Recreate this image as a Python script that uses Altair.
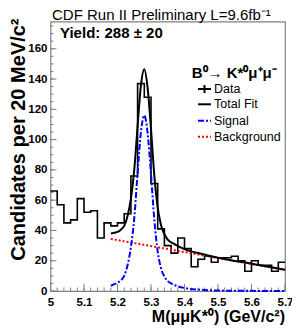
import altair as alt
import pandas as pd

# ---------------- data ----------------
BIN_LO = [round(5.00 + 0.02 * i, 2) for i in range(35)]
COUNTS = [66, 57, 45, 47, 61, 52, 53, 35, 45, 43,
          45, 51, 76, 137, 128, 71, 41, 30, 25, 35,
          28, 16, 21, 23, 19, 22, 22, 23, 20, 13,
          20, 17, 17, 13, 19]
HIST_END = 5.70

FIT_X = [5.18, 5.20, 5.21, 5.22, 5.23, 5.24, 5.25, 5.26, 5.27, 5.28, 5.29, 5.30,
         5.31, 5.32, 5.33, 5.34, 5.35, 5.37, 5.40, 5.45, 5.50, 5.60, 5.70]
SIGNAL = [3.5, 5.5, 7, 10, 17, 29, 48, 78, 105, 116, 104, 77,
          47, 26, 15, 9.5, 6.5, 4, 2, 0.8, 0.3, 0.1, 0]
TOTAL = [38, 39, 40.5, 43, 49.5, 61, 80, 109, 136, 146.5, 134, 107,
         76, 55, 43.5, 37.5, 34, 31, 27.7, 24.6, 22, 18, 14]
BKG_X = [5.18, 5.70]
BKG = [34.4, 13.9]

X_MAJOR = [5.0, 5.1, 5.2, 5.3, 5.4, 5.5, 5.6, 5.7]
X_MINOR = [round(5.0 + 0.02 * i, 2) for i in range(36)]
Y_MAJOR = [0, 20, 40, 60, 80, 100, 120, 140, 160]
Y_MINOR = list(range(0, 180, 5))

TITLE = "CDF Run II Preliminary L=9.6fb\u207b\u00b9"
YIELD = "Yield: 288 \u00b1 20"
DECAY = "B\u2070\u2192 K*\u2070\u03bc\u207a\u03bc\u207b"
LEGEND = ["Data", "Total Fit", "Signal", "Background"]
X_TITLE = "M(\u03bc\u03bcK*\u2070) (GeV/c\u00b2)"
Y_TITLE = "Candidates per 20 MeV/c\u00b2"

# ---------------- tables ----------------
hist_df = pd.DataFrame({"x": BIN_LO + [HIST_END], "y": COUNTS + [COUNTS[-1]]})
sig_df = pd.DataFrame({"x": FIT_X, "y": SIGNAL})
tot_df = pd.DataFrame({"x": FIT_X, "y": TOTAL})
bkg_df = pd.DataFrame({"x": BKG_X, "y": BKG})
xmaj_df = pd.DataFrame({"x": X_MAJOR})
xmin_df = pd.DataFrame({"x": X_MINOR})
ymaj_df = pd.DataFrame({"y": Y_MAJOR})
ymin_df = pd.DataFrame({"y": Y_MINOR})

W, H = 234.5, 269.5
FONT = "Liberation Sans"
GRAY = "#808080"

xs = alt.Scale(domain=[5.0, 5.7], nice=False, zero=False)
ys = alt.Scale(domain=[0, 178], nice=False)
X = alt.X("x:Q", scale=xs, axis=alt.Axis(values=X_MAJOR, format="~g", title=None,
                                         domain=False, ticks=False, grid=False,
                                         labelFont=FONT, labelFontWeight="bold",
                                         labelFontSize=11.5, labelColor="black",
                                         labelPadding=5.5, labelFlush=False))
Y = alt.Y("y:Q", scale=ys, axis=alt.Axis(values=Y_MAJOR, title=None,
                                         domain=False, ticks=False, grid=False,
                                         labelFont=FONT, labelFontWeight="bold",
                                         labelFontSize=11.5, labelColor="black",
                                         labelPadding=3.5))

hist = alt.Chart(hist_df).mark_line(interpolate="step-after", color="black",
                                    strokeWidth=1.6).encode(x=X, y=Y)
bkg = alt.Chart(bkg_df).mark_line(color="#ff0000", strokeWidth=2,
                                  strokeDash=[2, 2]).encode(x=X, y=Y)
tot = alt.Chart(tot_df).mark_line(color="black", strokeWidth=2,
                                  interpolate="monotone").encode(x=X, y=Y)
sig = alt.Chart(sig_df).mark_line(color="#0000ff", strokeWidth=2,
                                  strokeDash=[6, 2, 2, 2],
                                  interpolate="monotone").encode(x=X, y=Y)

yt_major = alt.Chart(ymaj_df).mark_rule(color=GRAY, strokeWidth=1).encode(
    y=Y, x=alt.value(0), x2=alt.value(6))
yt_minor = alt.Chart(ymin_df).mark_rule(color=GRAY, strokeWidth=1).encode(
    y=Y, x=alt.value(0), x2=alt.value(3))
xt_major = alt.Chart(xmaj_df).mark_rule(color=GRAY, strokeWidth=1).encode(
    x=X, y=alt.value(H), y2=alt.value(H - 7))
xt_minor = alt.Chart(xmin_df).mark_rule(color=GRAY, strokeWidth=1).encode(
    x=X, y=alt.value(H), y2=alt.value(H - 3.5))


def label(text, x, y, size, weight="normal", align="left", baseline="alphabetic",
          angle=0, color="black"):
    return alt.Chart(pd.DataFrame({"t": [text]})).mark_text(
        font=FONT, fontSize=size, fontWeight=weight, align=align,
        baseline=baseline, angle=angle, color=color).encode(
        x=alt.value(x), y=alt.value(y), text="t:N")


title = label(TITLE, 1.5, -1.5, 15)
yld = label(YIELD, 9.5, 16.8, 15, "bold")
decay = label(DECAY, 141.2, 56.5, 15, "bold")
xtitle = label(X_TITLE, W, 300.5, 16, "bold", align="right")
ytitle = label(Y_TITLE, -25.8, -3.0, 20, "bold", align="right", angle=270)

LX0, LX1, LTX = 147.5, 160.5, 163.5
LY = [67.5, 82.8, 99.2, 115.2]
leg_text = [label(LEGEND[i], LTX, LY[i], 12.5, baseline="middle") for i in range(4)]
one = pd.DataFrame({"a": [0]})
leg_data_h = alt.Chart(one).mark_rule(color="black", strokeWidth=2).encode(
    x=alt.value(LX0), x2=alt.value(LX1), y=alt.value(LY[0]))
leg_data_v = alt.Chart(one).mark_rule(color="black", strokeWidth=2).encode(
    x=alt.value((LX0 + LX1) / 2), y=alt.value(LY[0] - 4), y2=alt.value(LY[0] + 4))
leg_tot = alt.Chart(one).mark_rule(color="black", strokeWidth=2).encode(
    x=alt.value(LX0), x2=alt.value(LX1), y=alt.value(LY[1]))
leg_sig = alt.Chart(one).mark_rule(color="#0000ff", strokeWidth=2,
                                   strokeDash=[6, 2, 2, 2]).encode(
    x=alt.value(LX0), x2=alt.value(LX1), y=alt.value(LY[2]))
leg_bkg = alt.Chart(one).mark_rule(color="#ff0000", strokeWidth=2,
                                   strokeDash=[2, 2]).encode(
    x=alt.value(LX0), x2=alt.value(LX1), y=alt.value(LY[3]))

chart = alt.layer(
    xt_minor, xt_major, yt_minor, yt_major,
    hist, bkg, sig, tot,
    title, yld, decay, xtitle, ytitle,
    leg_data_h, leg_data_v, leg_tot, leg_sig, leg_bkg, *leg_text,
).properties(
    width=W, height=H,
    autosize=alt.AutoSizeParams(type="none"),
    padding={"left": 42.5, "top": 13.5, "right": 7, "bottom": 34},
).configure_view(stroke=GRAY, strokeWidth=1.2)

chart.save("out.html", embed_options={"renderer": "svg", "actions": False})
